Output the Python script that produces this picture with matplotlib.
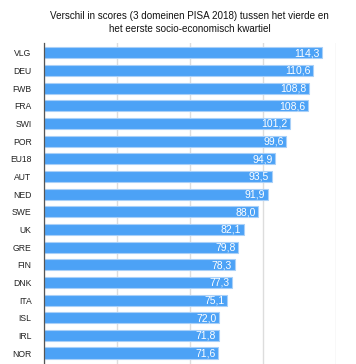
import numpy as np
import matplotlib
matplotlib.use("Agg")
import matplotlib.pyplot as plt

# ── Data ──────────────────────────────────────────────────────────────────────

COUNTRIES = ["VLG", "DEU", "FWB", "FRA", "SWI", "POR", "EU18", "AUT", "NED",
             "SWE", "UK", "GRE", "FIN", "DNK", "ITA", "ISL", "IRL", "NOR"]
SCORES = [114.3, 110.6, 108.8, 108.6, 101.2, 99.6, 94.9, 93.5, 91.9,
          88.0, 82.1, 79.8, 78.3, 77.3, 75.1, 72.0, 71.8, 71.6]
GRID_TICKS = [0, 30, 60, 90, 120]

TITLE = ("Verschil in scores (3 domeinen PISA 2018) tussen het vierde en\n"
         "het eerste socio-economisch kwartiel")

BAR_COLOR = "#4ca2f6"

plt.rcParams["font.family"] = ["Liberation Sans", "DejaVu Sans"]

fig = plt.figure(figsize=(3.56, 3.64), dpi=100)
ax = fig.add_axes([44 / 356, 0.0, 292 / 356, 1 - 43 / 364])

y = np.arange(len(COUNTRIES))
ax.barh(y, SCORES, height=0.63, color=BAR_COLOR,
        edgecolor="#a9d0f8", linewidth=0.8, zorder=3)

# value labels, white, inside the end of each bar
for yi, v in zip(y, SCORES):
    ax.text(v - 1.0, yi + 0.03, f"{v:.1f}".replace(".", ","), color="white",
            ha="right", va="center", fontsize=7.5, zorder=4)

ax.set_xlim(0, 120)
ax.set_ylim(len(COUNTRIES) - 0.38, -0.555)
ax.set_xticks(GRID_TICKS)
ax.set_xticklabels([])
ax.set_yticks(y)
ax.set_yticklabels(COUNTRIES, fontsize=6.2, color="#222222")
ax.tick_params(axis="both", length=0)
ax.tick_params(axis="y", pad=9)
ax.grid(axis="x", color="#dddddd", linewidth=1.0, zorder=0)

for side in ["top", "right", "bottom"]:
    ax.spines[side].set_visible(False)
ax.spines["left"].set_color("#555555")
ax.spines["left"].set_linewidth(0.9)
ax.spines["left"].set_zorder(5)

fig.text(189.5 / 356, 1 - 22.5 / 364, TITLE, ha="center", va="center",
         fontsize=7.1, color="#111111", linespacing=1.35)

fig.savefig("out.png", dpi=100)
